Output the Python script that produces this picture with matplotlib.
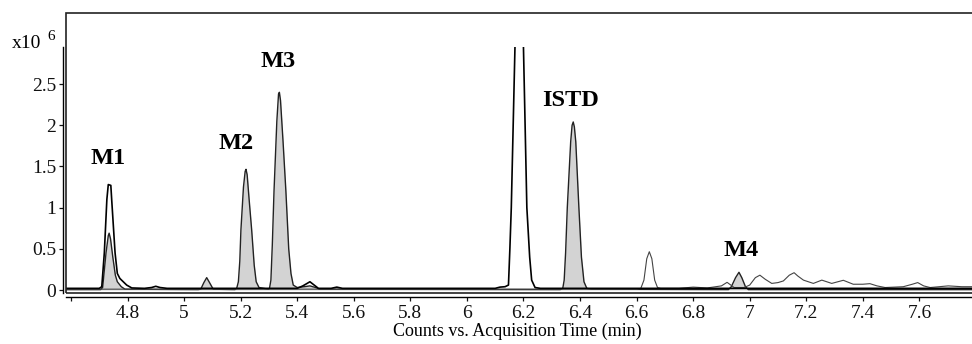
import matplotlib
matplotlib.use("Agg")
import matplotlib.pyplot as plt
from matplotlib.patches import Rectangle

plt.rcParams['font.family'] = ['Liberation Serif', 'DejaVu Serif']

# black trace (outer M1, big peak at 6.2)
black_t = [4.58, 4.65, 4.70, 4.709, 4.718, 4.727, 4.732, 4.741, 4.744, 4.756, 4.764, 4.773,
           4.785, 4.797, 4.815, 4.86, 4.885, 4.90, 4.915, 4.94, 5.40, 5.42, 5.445, 5.46,
           5.475, 5.52, 5.54, 5.56, 5.80, 6.10, 6.117, 6.135, 6.147, 6.152, 6.157, 6.170,
           6.185, 6.200, 6.212, 6.222, 6.229, 6.241, 6.26, 6.60, 7.00, 7.40, 7.786]
black_v = [0.02, 0.02, 0.02, 0.04, 0.45, 1.10, 1.28, 1.27, 1.10, 0.45, 0.20, 0.14,
           0.10, 0.06, 0.025, 0.02, 0.03, 0.045, 0.03, 0.02, 0.02, 0.05, 0.10, 0.06,
           0.02, 0.02, 0.035, 0.02, 0.02, 0.02, 0.035, 0.04, 0.06, 0.5, 1.0, 2.95,
           5.2, 2.95, 1.0, 0.4, 0.12, 0.03, 0.02, 0.02, 0.02, 0.02, 0.02]

# grey filled trace (M1, M2, M3, ISTD, M4)
fill_t = [4.58, 4.705, 4.712, 4.724, 4.732, 4.735, 4.740, 4.748, 4.757, 4.764, 4.778, 4.791,
          5.05, 5.059, 5.07, 5.08, 5.09, 5.103,
          5.18, 5.186, 5.192, 5.197, 5.201, 5.210, 5.216, 5.219, 5.223, 5.230, 5.239, 5.248,
          5.255, 5.265, 5.298,
          5.302, 5.307, 5.312, 5.318, 5.328, 5.334, 5.337, 5.341, 5.350, 5.360, 5.370, 5.378,
          5.386, 5.40, 5.425, 5.445, 5.465, 5.48,
          6.33, 6.339, 6.344, 6.349, 6.355, 6.367, 6.372, 6.376, 6.380, 6.385, 6.396, 6.405,
          6.414, 6.424, 6.44,
          6.925, 6.935, 6.950, 6.962, 6.972, 6.985, 6.995, 7.786]
fill_v = [0.005, 0.005, 0.03, 0.45, 0.66, 0.69, 0.62, 0.40, 0.18, 0.10, 0.04, 0.01,
          0.005, 0.01, 0.09, 0.15, 0.09, 0.01,
          0.005, 0.02, 0.10, 0.35, 0.73, 1.25, 1.44, 1.465, 1.40, 1.10, 0.73, 0.30,
          0.10, 0.03, 0.01,
          0.02, 0.12, 0.55, 1.20, 2.05, 2.38, 2.40, 2.30, 1.80, 1.20, 0.50, 0.20,
          0.06, 0.03, 0.04, 0.05, 0.03, 0.01,
          0.005, 0.02, 0.12, 0.45, 1.00, 1.80, 2.00, 2.04, 1.98, 1.80, 1.00, 0.40,
          0.10, 0.02, 0.01,
          0.005, 0.04, 0.15, 0.215, 0.15, 0.04, 0.005, 0.005]

# thin grey trace (6.65 peak and late bumps)
thin_t = [4.58, 6.60, 6.615, 6.626, 6.636, 6.645, 6.654, 6.664, 6.674, 6.685, 6.75, 6.80,
          6.85, 6.90, 6.92, 6.945, 6.98, 7.00, 7.02, 7.036, 7.055, 7.078, 7.10, 7.119,
          7.14, 7.157, 7.17, 7.19, 7.225, 7.255, 7.29, 7.331, 7.366, 7.40, 7.425, 7.45,
          7.479, 7.543, 7.575, 7.594, 7.615, 7.638, 7.702, 7.75, 7.786]
thin_v = [0.01, 0.01, 0.02, 0.12, 0.38, 0.465, 0.38, 0.12, 0.03, 0.02, 0.02, 0.035,
          0.025, 0.05, 0.093, 0.03, 0.03, 0.06, 0.15, 0.18, 0.13, 0.08, 0.09, 0.11,
          0.18, 0.21, 0.17, 0.12, 0.08, 0.12, 0.08, 0.118, 0.07, 0.07, 0.077, 0.05,
          0.03, 0.04, 0.07, 0.09, 0.05, 0.03, 0.05, 0.04, 0.04]

peak_names = ["M1", "M2", "M3", "ISTD", "M4"]
peak_label_t = [4.731, 5.184, 5.332, 6.365, 6.969]
peak_label_v = [1.60, 1.784, 2.78, 2.306, 0.485]

x_ticks = [4.6, 4.8, 5.0, 5.2, 5.4, 5.6, 5.8, 6.0, 6.2, 6.4, 6.6, 6.8, 7.0, 7.2, 7.4, 7.6]
x_tick_labels = ["", "4.8", "5", "5.2", "5.4", "5.6", "5.8", "6", "6.2", "6.4", "6.6",
                 "6.8", "7", "7.2", "7.4", "7.6"]
y_ticks = [0, 0.5, 1, 1.5, 2, 2.5]
y_tick_labels = ["0", "0.5", "1", "1.5", "2", "2.5"]

W, H = 972, 344
fig = plt.figure(figsize=(W / 100, H / 100), dpi=100)

# outer frame
fig.add_artist(Rectangle((66 / W, 1 - 293 / H), 1.0, (293 - 13) / H,
                         transform=fig.transFigure, fill=False, ec="#222222", lw=1.2))

ax = fig.add_axes([66 / W, 1 - 293 / H, 1 - 66 / W, (293 - 47) / H])
ax.fill_between(fill_t, 0, fill_v, color="#d3d3d3", lw=0, zorder=1)
ax.plot(fill_t, fill_v, color="#222222", lw=1.0, zorder=2)
ax.plot(thin_t, thin_v, color="#444444", lw=0.8, zorder=3)
ax.plot(black_t, black_v, color="#000000", lw=1.2, zorder=4)

for name, t, v in zip(peak_names, peak_label_t, peak_label_v):
    ax.text(t, v, name, ha="center", va="center", fontsize=17.5, fontweight="bold")

ax.set_xlim(4.5825, 7.786)
ax.set_ylim(-0.0364, 2.95)
ax.set_xticks(x_ticks)
ax.set_xticklabels(x_tick_labels)
ax.set_yticks(y_ticks)
ax.set_yticklabels(y_tick_labels)
ax.tick_params(labelsize=14, length=3, width=0.9, pad=2, colors="#111111")
ax.tick_params(axis="x", pad=3)

ax.patch.set_visible(False)
for s in ["top", "right"]:
    ax.spines[s].set_visible(False)
ax.spines["left"].set_position(("outward", 2.2))
ax.spines["bottom"].set_position(("outward", 2.9))
ax.spines["left"].set_linewidth(1.0)
ax.spines["bottom"].set_linewidth(1.0)

fig.text(12 / W, 1 - 48 / H, "x10", fontsize=14, va="baseline", ha="left")
fig.text(47 / W, 1 - 40 / H, "6", fontsize=11, va="baseline", ha="left")
fig.text(517 / W, 1 - 331 / H, "Counts vs. Acquisition Time (min)", fontsize=13,
         ha="center", va="center")

fig.savefig("out.png", dpi=100)
